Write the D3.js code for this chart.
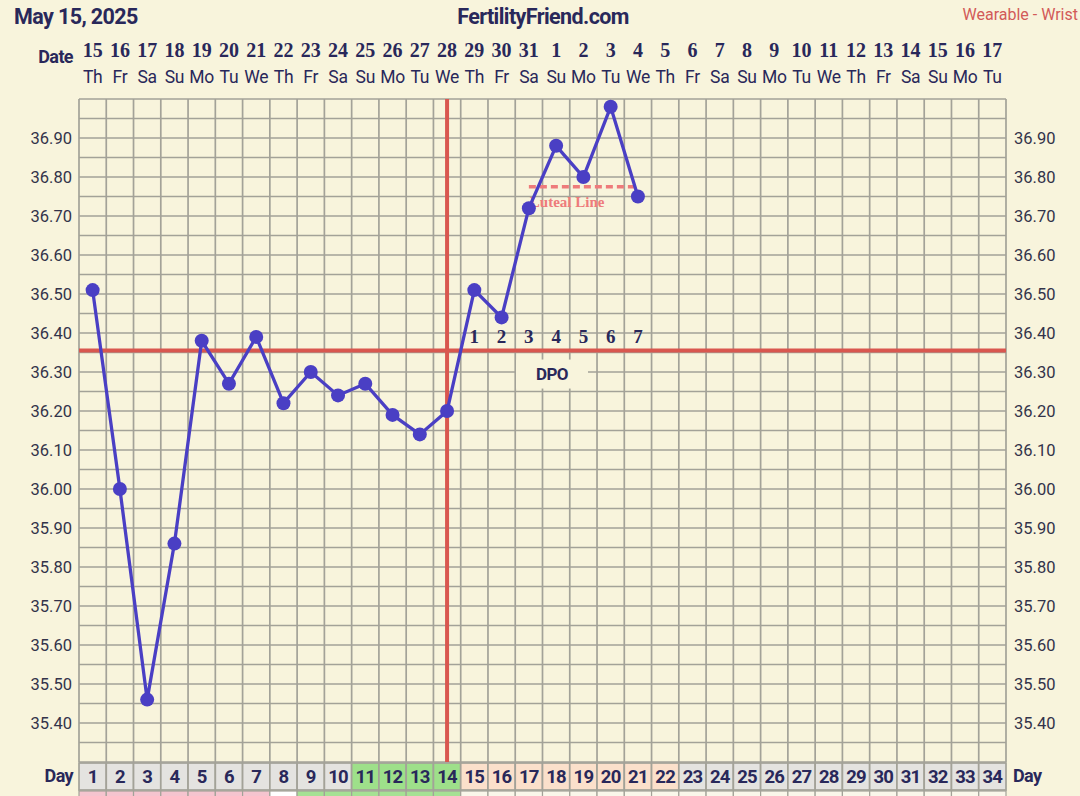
<!DOCTYPE html>
<html>
<head>
<meta charset="utf-8">
<script src="https://cdnjs.cloudflare.com/ajax/libs/d3/7.8.5/d3.min.js"></script>
<style>
  body { margin: 0; background: #f8f4dc; }
  svg { display: block; }
</style>
</head>
<body>
<div id="chart"></div>
<script>
  var cycleDays = d3.range(1, 35);
  var dates = [15,16,17,18,19,20,21,22,23,24,25,26,27,28,29,30,31,1,2,3,4,5,6,7,8,9,10,11,12,13,14,15,16,17];
  var weekdays = ['Th','Fr','Sa','Su','Mo','Tu','We','Th','Fr','Sa','Su','Mo','Tu','We','Th','Fr','Sa','Su','Mo','Tu','We','Th','Fr','Sa','Su','Mo','Tu','We','Th','Fr','Sa','Su','Mo','Tu'];
  var temps = [36.51,36.00,35.46,35.86,36.38,36.27,36.39,36.22,36.30,36.24,36.27,36.19,36.14,36.20,36.51,36.44,36.72,36.88,36.80,36.98,36.75];
  var yTicks = [36.90,36.80,36.70,36.60,36.50,36.40,36.30,36.20,36.10,36.00,35.90,35.80,35.70,35.60,35.50,35.40];
  var coverline = 36.355;
  var ovulationDay = 14;
  var dpoLabels = [1,2,3,4,5,6,7];
  var lutealFrom = 17, lutealTo = 21, lutealTemp = 36.775;
  // day row phase: g = grey, f = fertile, l = luteal
  var dayPhase = 'ggggggggggffffllllllllggggggggggggg'.split('');
  // strip under the day row
  var stripPhase = 'pppppppwffffffcccccccccccccccccccc'.split('');

(function(d3) {
  'use strict';

  var width = 1080, height = 796;
  var padLeft = 79, padRight = 1006, padTop = 99, padBottom = 762;
  var ink = '#29285a';
  var red = '#d9574f';
  var gridColor = '#a3a298';

  var svg = d3.select('#chart').append('svg')
    .attr('width', width).attr('height', height);

  svg.append('rect').attr('width', width).attr('height', height).attr('fill', '#f8f4dc');

  var x = d3.scaleLinear().domain([0.5, 34.5]).range([padLeft, padRight]);
  var y = d3.scaleLinear().domain([35.30, 37.00]).range([padBottom, padTop]);

  // grid
  var grid = svg.append('g').attr('stroke', gridColor).attr('stroke-width', 1.7);
  grid.selectAll('.v').data(d3.range(0, 35)).enter().append('line')
    .attr('x1', function(d) { return x(d + 0.5); })
    .attr('x2', function(d) { return x(d + 0.5); })
    .attr('y1', padTop).attr('y2', padBottom);
  grid.selectAll('.h').data(d3.range(0, 35)).enter().append('line')
    .attr('x1', padLeft).attr('x2', padRight)
    .attr('y1', function(d) { return y(35.30 + d * 0.05); })
    .attr('y2', function(d) { return y(35.30 + d * 0.05); });

  // header
  svg.append('text').attr('x', 14).attr('y', 24)
    .style('font', 'bold 21.5px Roboto').style('letter-spacing', '-0.6px').attr('fill', ink)
    .text('May 15, 2025');
  svg.append('text').attr('x', 543).attr('y', 24).attr('text-anchor', 'middle')
    .style('font', 'bold 21.5px Roboto').style('letter-spacing', '-0.6px').attr('fill', ink)
    .text('FertilityFriend.com');
  svg.append('text').attr('x', 1078).attr('y', 20).attr('text-anchor', 'end')
    .style('font', '16px Roboto').attr('fill', '#d25a58')
    .text('Wearable - Wrist');

  svg.append('text').attr('x', 73).attr('y', 63).attr('text-anchor', 'end')
    .style('font', 'bold 18px Roboto').style('letter-spacing', '-0.6px').attr('fill', ink).text('Date');

  svg.selectAll('.date').data(cycleDays).enter().append('text')
    .attr('x', function(d) { return x(d); }).attr('y', 57)
    .attr('text-anchor', 'middle')
    .style('font', 'bold 20px "Liberation Serif"').attr('fill', ink)
    .text(function(d, i) { return dates[i]; });

  svg.selectAll('.dow').data(cycleDays).enter().append('text')
    .attr('x', function(d) { return x(d); }).attr('y', 83)
    .attr('text-anchor', 'middle')
    .style('font', '17.5px Roboto').style('letter-spacing', '-0.3px').attr('fill', ink)
    .text(function(d, i) { return weekdays[i]; });

  // y labels both sides
  svg.selectAll('.yl').data(yTicks).enter().append('text')
    .attr('x', 72).attr('y', function(d) { return y(d) + 6; })
    .attr('text-anchor', 'end')
    .style('font', '16.5px Roboto').attr('fill', '#33334a')
    .text(function(d) { return d.toFixed(2); });
  svg.selectAll('.yr').data(yTicks).enter().append('text')
    .attr('x', 1014).attr('y', function(d) { return y(d) + 6; })
    .style('font', '16.5px Roboto').attr('fill', '#33334a')
    .text(function(d) { return d.toFixed(2); });

  // day row
  var phaseFill = { g: '#e4e3e0', f: '#9ee08a', l: '#fbe0cb' };
  var stripFill = { p: '#f5c4cf', w: '#ffffff', f: '#a6e194', c: '#faf7ea' };
  var cw = x(2) - x(1);
  svg.selectAll('.cell').data(cycleDays).enter().append('rect')
    .attr('x', function(d) { return x(d - 0.5); }).attr('y', padBottom + 1)
    .attr('width', cw).attr('height', 27)
    .attr('fill', function(d, i) { return phaseFill[dayPhase[i]]; })
    .attr('stroke', gridColor).attr('stroke-width', 1.7);
  svg.selectAll('.strip').data(cycleDays).enter().append('rect')
    .attr('x', function(d) { return x(d - 0.5); }).attr('y', padBottom + 29)
    .attr('width', cw).attr('height', 8)
    .attr('fill', function(d, i) { return stripFill[stripPhase[i]]; })
    .attr('stroke', gridColor).attr('stroke-width', 1.2);
  svg.selectAll('.dnum').data(cycleDays).enter().append('text')
    .attr('x', function(d) { return x(d); }).attr('y', padBottom + 21)
    .attr('text-anchor', 'middle')
    .style('font', 'bold 18.5px Roboto').style('letter-spacing', '-0.8px').attr('fill', ink)
    .text(function(d) { return d; });
  svg.append('text').attr('x', 73).attr('y', padBottom + 20).attr('text-anchor', 'end')
    .style('font', 'bold 18px Roboto').style('letter-spacing', '-0.6px').attr('fill', ink).text('Day');
  svg.append('text').attr('x', 1013).attr('y', padBottom + 20)
    .style('font', 'bold 18px Roboto').style('letter-spacing', '-0.6px').attr('fill', ink).text('Day');

  // ovulation line and coverline
  svg.append('line')
    .attr('x1', x(ovulationDay)).attr('x2', x(ovulationDay))
    .attr('y1', padTop).attr('y2', padBottom)
    .attr('stroke', red).attr('stroke-width', 4);
  svg.append('line')
    .attr('x1', padLeft).attr('x2', padRight)
    .attr('y1', y(coverline)).attr('y2', y(coverline))
    .attr('stroke', red).attr('stroke-width', 4);

  // DPO
  svg.selectAll('.dpo').data(dpoLabels).enter().append('text')
    .attr('x', function(d) { return x(ovulationDay + d); }).attr('y', y(coverline) - 8)
    .attr('text-anchor', 'middle')
    .style('font', 'bold 19px "Liberation Serif"').attr('fill', ink)
    .text(function(d) { return d; });
  svg.append('rect').attr('x', 516).attr('y', y(coverline) + 9)
    .attr('width', 72).attr('height', 29).attr('fill', '#f8f4dc');
  svg.append('text').attr('x', 552).attr('y', y(coverline) + 29)
    .attr('text-anchor', 'middle')
    .style('font', 'bold 17px Roboto').style('letter-spacing', '-0.6px').attr('fill', ink).text('DPO');

  // luteal line
  svg.append('line')
    .attr('x1', x(lutealFrom)).attr('x2', x(lutealTo))
    .attr('y1', y(lutealTemp)).attr('y2', y(lutealTemp))
    .attr('stroke', '#ee7b7b').attr('stroke-width', 3.5).attr('stroke-dasharray', '7,4');
  svg.append('text').attr('x', x(lutealFrom) + 1).attr('y', y(lutealTemp) + 20)
    .style('font', 'bold 15px "Liberation Serif"').attr('fill', '#ee7b7b').text('Luteal Line');

  // temperatures
  var line = d3.line()
    .x(function(d, i) { return x(i + 1); })
    .y(function(d) { return y(d); });
  svg.append('path').datum(temps)
    .attr('d', line).attr('fill', 'none')
    .attr('stroke', '#4a3fc4').attr('stroke-width', 3.3);
  svg.selectAll('.pt').data(temps).enter().append('circle')
    .attr('cx', function(d, i) { return x(i + 1); })
    .attr('cy', function(d) { return y(d); })
    .attr('r', 7).attr('fill', '#4a3fc4');

})(window.d3);
</script>
</body>
</html>
